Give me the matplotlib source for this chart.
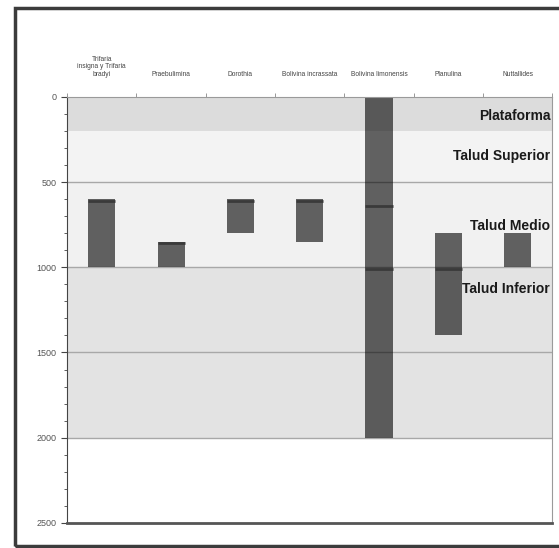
import matplotlib
matplotlib.use("Agg")
import matplotlib.pyplot as plt
from matplotlib.patches import Rectangle

plt.rcParams['font.family'] = ['Liberation Sans Narrow', 'Liberation Sans', 'DejaVu Sans']

# species and depth ranges (m)
species = ["Trifaria\ninsigna y Trifaria\nbradyi", "Praebulimina", "Dorothia",
           "Bolivina incrassata", "Bolivina limonensis", "Planulina", "Nuttallides"]
range_top = [600, 850, 600, 600, 0, 800, 800]
range_bottom = [1000, 1000, 800, 850, 2000, 1400, 1000]
# depths where a bar shows a darker edge line
edge_lines = [[600], [850], [600], [600], [630, 1000], [1000], []]

# depth zones
zones = ["Plataforma", "Talud Superior", "Talud Medio", "Talud Inferior"]
zone_tops = [0, 200, 500, 1000]
zone_bottoms = [200, 500, 1000, 2000]
zone_colors = ["#dcdcdc", "#f3f3f3", "#f1f1f1", "#e3e3e3"]
zone_label_depth = [110, 345, 755, 1130]

yticks = [0, 500, 1000, 1500, 2000, 2500]


def main():
    fig = plt.figure(figsize=(5.59, 5.48), dpi=100)
    ax = fig.add_axes([0.12, 0.046, 0.868, 0.777])

    n = len(species)
    ax.set_xlim(0, n)
    ax.set_ylim(2500, 0)

    # zone bands
    for top, bot, col in zip(zone_tops, zone_bottoms, zone_colors):
        ax.axhspan(top, bot, color=col, zorder=0, lw=0)

    for y in yticks[1:-1]:
        ax.axhline(y, color="#a8a8a8", lw=1, zorder=1)

    # range bars (semi transparent, so the bands shade them)
    w = 0.39
    for i in range(n):
        x = i + 0.5
        ax.bar(x, range_bottom[i] - range_top[i], bottom=range_top[i], width=w,
               color="black", alpha=0.6, edgecolor="none", zorder=2)
        for d in edge_lines[i]:
            ax.hlines(d + 8, x - w / 2, x + w / 2, color="#3a3a3a", lw=2, zorder=3)

    # zone labels
    for name, d in zip(zones, zone_label_depth):
        ax.text(n - 0.03, d, name, ha="right", va="center", fontsize=10,
                fontweight="bold", color="#1a1a1a", zorder=4)

    # axes
    ax.set_yticks(yticks)
    ax.set_yticklabels([str(v) for v in yticks], fontsize=6.5, color="#555555")
    ax.set_yticks(range(0, 2501, 100), minor=True)
    ax.tick_params(axis="y", which="major", length=4, color="#444444")
    ax.tick_params(axis="y", which="minor", length=2, color="#444444")

    ax.xaxis.tick_top()
    ax.set_xticks([i + 0.5 for i in range(n)])
    ax.set_xticklabels(species, fontsize=4.8, color="#444444", linespacing=1.1)
    ax.set_xticks(range(n + 1), minor=True)
    ax.tick_params(axis="x", which="major", length=0, pad=14)
    ax.tick_params(axis="x", which="minor", length=3, color="#888888")

    for s in ["top", "right"]:
        ax.spines[s].set_color("#9a9a9a")
    ax.spines["left"].set_color("#444444")
    ax.spines["bottom"].set_color("#555555")
    ax.spines["bottom"].set_linewidth(2)

    # outer frame
    fig.patches.append(Rectangle((15 / 559, 2 / 548), 1.2, 1 - 10 / 548, transform=fig.transFigure,
                                 fill=False, edgecolor="#3c3c3c", lw=2.5))

    fig.savefig("out.png", dpi=100)


if __name__ == "__main__":
    main()
